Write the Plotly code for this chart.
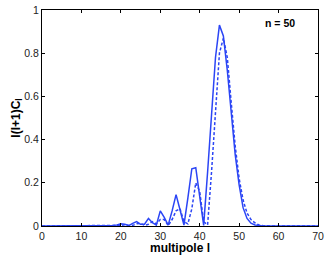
import plotly.graph_objects as go

multipole = list(range(0, 71))

solid_vals = [0.0] * 18 + [
    0.002, 0.005, 0.010, 0.008, 0.002, 0.012, 0.020, 0.008, 0.008, 0.035,  # 18-27
    0.015, 0.004, 0.070, 0.040, 0.004, 0.070, 0.145, 0.075, 0.004, 0.130,  # 28-37
    0.265, 0.270, 0.130, 0.003, 0.250, 0.500, 0.780, 0.930, 0.880, 0.720,  # 38-47
    0.520, 0.330, 0.190, 0.085, 0.035, 0.013, 0.005, 0.001,                # 48-55
] + [0.0] * 15

dashed_vals = [0.0] * 20 + [
    0.003, 0.006, 0.002, 0.003, 0.010, 0.012, 0.003, 0.008, 0.020, 0.010,  # 20-29
    0.030, 0.030, 0.002, 0.030, 0.070, 0.080, 0.020, 0.010, 0.080, 0.200,  # 30-39
    0.160, 0.020, 0.005, 0.250, 0.520, 0.800, 0.870, 0.780, 0.570, 0.370,  # 40-49
    0.220, 0.120, 0.060, 0.030, 0.015, 0.005, 0.002,                       # 50-56
] + [0.0] * 14

x_ticks = [0, 10, 20, 30, 40, 50, 60, 70]
y_ticks = [0, 0.2, 0.4, 0.6, 0.8, 1]
y_tick_text = ["0", "0.2", "0.4", "0.6", "0.8", "1"]

line_color = "#2b45f5"
font_family = "Liberation Sans, Arial, Helvetica"

fig = go.Figure()
fig.add_trace(go.Scatter(x=multipole, y=solid_vals, mode="lines",
                         line=dict(color=line_color, width=1.5), cliponaxis=False))
fig.add_trace(go.Scatter(x=multipole, y=dashed_vals, mode="lines",
                         line=dict(color=line_color, width=1.5, dash="3px,2px"), cliponaxis=False))

fig.add_annotation(x=60.4, y=0.94, text="<b>n = 50</b>", showarrow=False,
                   font=dict(family=font_family, size=10.5, color="black"))

axis_common = dict(showgrid=False, zeroline=False, showline=True, linecolor="black",
                   linewidth=1, mirror="ticks", ticks="inside", ticklen=3,
                   tickcolor="black", automargin=False,
                   tickfont=dict(family=font_family, size=10.5, color="#222"))

fig.update_xaxes(range=[0, 70], tickvals=x_ticks,
                 title=dict(text="<b>multipole l</b>", standoff=0,
                            font=dict(family=font_family, size=12, color="black")),
                 **axis_common)
fig.update_yaxes(range=[0, 1], tickvals=y_ticks, ticktext=y_tick_text,
                 title=dict(text="<b>l(l+1)C<sub>l</sub></b>", standoff=0,
                            font=dict(family=font_family, size=12, color="black")),
                 **axis_common)

fig.update_layout(width=327, height=255, margin=dict(l=42, r=9, t=10, b=29),
                  plot_bgcolor="white", paper_bgcolor="white", showlegend=False)

fig.write_html("out.html", config={"displayModeBar": False},
               post_script="document.body.style.margin='0px';")
